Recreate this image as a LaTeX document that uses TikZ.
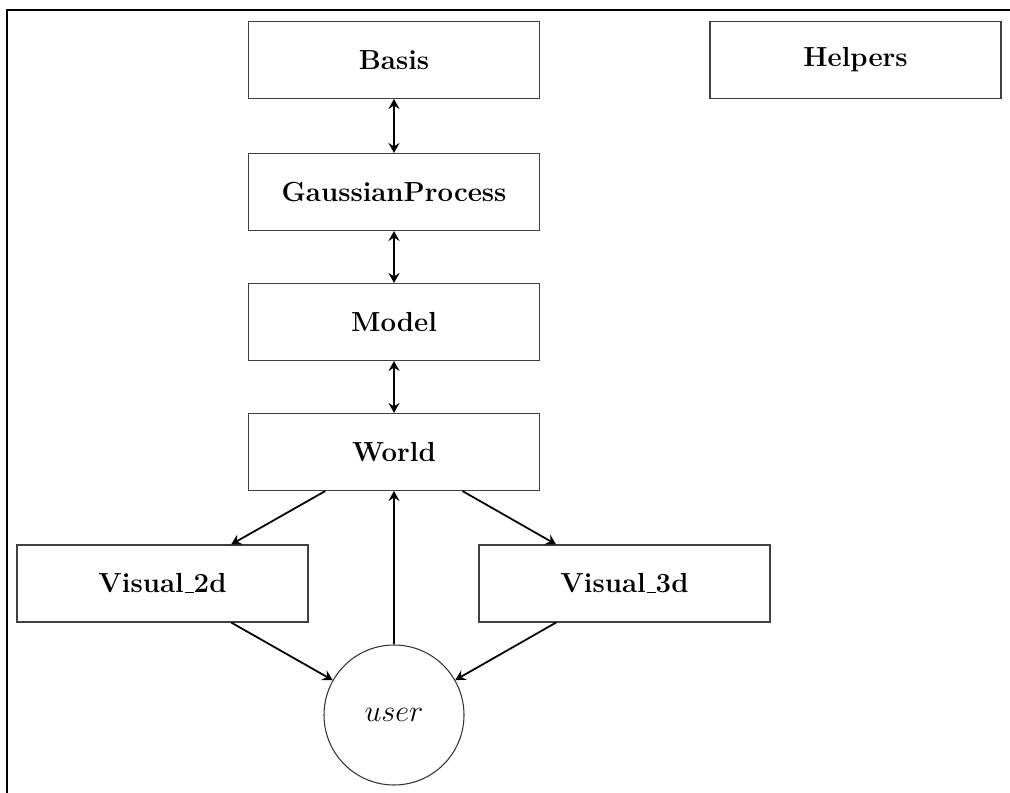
\documentclass[tikz,border=0pt]{standalone}
\usepackage{amssymb,amsmath}
\usepackage{tikz}
\usetikzlibrary{arrows,arrows.meta,shapes,positioning}

\newcommand{\usc}{\kern.06em\vbox{\hrule width.3em height.05em}}

\tikzset{
  modbox/.style={draw=black!75, line width=0.6pt, minimum width=5.82cm, minimum height=1.54cm, font=\fontsize{15.7}{19}\selectfont\bfseries},
  userbox/.style={draw=black!80, line width=0.6pt, circle, minimum size=2.8cm, font=\fontsize{17.5}{21}\selectfont},
  link/.style={line width=1pt,->, >={Stealth[length=2mm,width=2.2mm,inset=0.7mm]}},
  dlink/.style={link,<->}
}

\begin{document}
\begin{tikzpicture}
\useasboundingbox (0,0) rectangle (20.2,-15.86);
% frame edges
\draw[semithick] (0.14,-15.86)--(0.14,-0.2)--(20.2,-0.2);
%top column
\node[modbox] (basis) at (7.88,-1.2) {Basis};
\node[modbox] (helpers) at (17.11,-1.2) {Helpers};
\node[modbox] (gp) at (7.88,-3.84) {GaussianProcess};
\node[modbox] (model) at (7.88,-6.44) {Model};
\node[modbox] (world) at (7.88,-9.04) {World};
%visuals and user
\node[modbox] (vis2d) at (3.25,-11.67) {Visual\usc2d};
\node[modbox] (vis3d) at (12.49,-11.67) {Visual\usc3d};
\node[userbox] (user) at (7.88,-14.3) {$user$};
% links
\draw[dlink] (basis)--(gp);
\draw[dlink] (gp)--(model);
\draw[dlink] (model)--(world);
\draw[link] (world)--(vis2d); \draw[link] (world)--(vis3d);
\draw[link] (vis2d)--(user); \draw[link] (vis3d)--(user);
\draw[link] (user)--(world);
\end{tikzpicture}
\end{document}
